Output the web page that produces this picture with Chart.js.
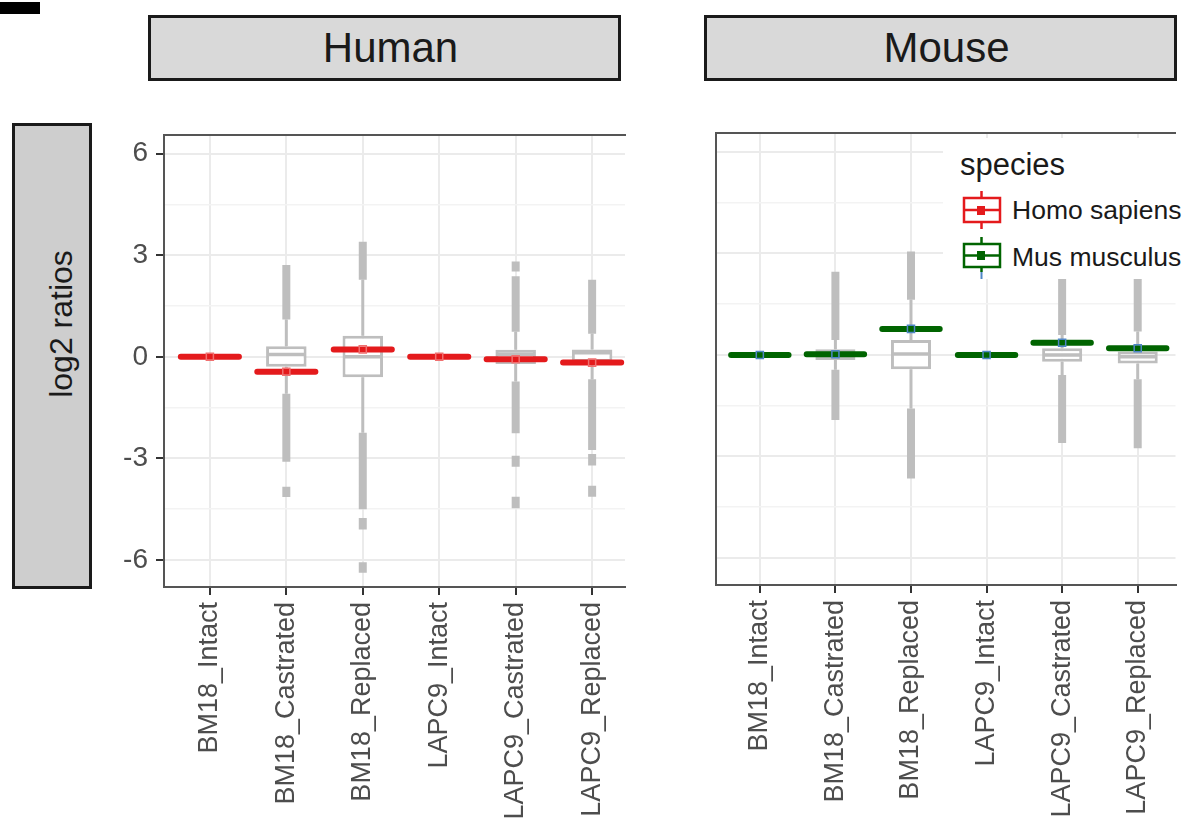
<!DOCTYPE html>
<html>
<head>
<meta charset="utf-8">
<script src="https://cdn.jsdelivr.net/npm/chart.js@4.4.1/dist/chart.umd.min.js"></script>
<style>
  body { margin: 0; background: #fff; width: 1182px; height: 821px; overflow: hidden; position: relative; font-family: "Liberation Sans", Arial, sans-serif; }
  .abs { position: absolute; }
  .strip { position: absolute; box-sizing: border-box; border: 3px solid #1a1a1a; background: #d9d9d9; color: #1a1a1a; font-size: 42px; display: flex; align-items: center; justify-content: center; padding-left: 12px; }
  #ylab { position: absolute; left: 12px; top: 123px; width: 80px; height: 466px; box-sizing: border-box; border: 3px solid #1a1a1a; background: #cecece; }
  #ylabText { position: absolute; left: 61px; top: 324px; transform: translate(-50%, -50%) rotate(-90deg); font-size: 32px; color: #1a1a1a; white-space: nowrap; }
  #legend { position: absolute; left: 943px; top: 138px; width: 239px; height: 141px; background: #fff; }
</style>
</head>
<body>
<div class="abs" style="left:0;top:2px;width:40px;height:12px;background:#000"></div>
<div class="strip" style="left:148px;top:15px;width:473px;height:66px">Human</div>
<div class="strip" style="left:704px;top:15px;width:473px;height:66px">Mouse</div>
<div id="ylab"></div>
<div id="ylabText">log2 ratios</div>

<canvas id="human" class="abs" style="left:60px;top:110px" width="580" height="711"></canvas>
<canvas id="mouse" class="abs" style="left:700px;top:110px" width="482" height="711"></canvas>

<div id="legend">
  <svg width="239" height="141" style="position:absolute;left:0;top:0" font-family="Liberation Sans, Arial, sans-serif">
    <text x="17" y="37" font-size="31" fill="#1a1a1a">species</text>
    <g stroke="#e41a1c" stroke-width="2.5" fill="none">
      <line x1="38.5" y1="53" x2="38.5" y2="60"/>
      <line x1="38.5" y1="84" x2="38.5" y2="91"/>
      <rect x="21" y="60" width="36" height="24"/>
      <line x1="21" y1="72" x2="57" y2="72"/>
    </g>
    <rect x="34" y="68" width="8" height="9" fill="#e41a1c"/>
    <text x="69" y="81" font-size="26.5" fill="#1a1a1a">Homo sapiens</text>
    <g stroke="#006400" stroke-width="2.5" fill="none">
      <line x1="38.5" y1="99" x2="38.5" y2="106"/>
      <line x1="38.5" y1="129" x2="38.5" y2="134"/>
      <rect x="21" y="106" width="36" height="23"/>
      <line x1="21" y1="117.5" x2="57" y2="117.5"/>
    </g>
    <line x1="38.5" y1="134" x2="38.5" y2="141" stroke="#4f86c6" stroke-width="2"/>
    <rect x="34" y="113" width="8" height="9" fill="#006400"/>
    <text x="69" y="128" font-size="26.5" fill="#1a1a1a">Mus musculus</text>
  </svg>
</div>

<script>
const categories = ['BM18_Intact', 'BM18_Castrated', 'BM18_Replaced', 'LAPC9_Intact', 'LAPC9_Castrated', 'LAPC9_Replaced'];
const yTicks = [-6, -4.5, -3, -1.5, 0, 1.5, 3, 4.5, 6];

// Human (Homo sapiens)
const humanQ1 = [0, -0.29, -0.60, 0, -0.21, -0.15];
const humanMedian = [0, 0.07, 0.0, 0, 0.08, 0.12];
const humanQ3 = [0, 0.31, 0.62, 0, 0.21, 0.22];
const humanWhiskerLow = [0, -1.09, -2.24, 0, -0.73, -0.66];
const humanWhiskerHigh = [0, 1.1, 2.28, 0, 0.74, 0.68];
const humanMean = [0, -0.44, 0.22, 0, -0.07, -0.17];
// outliers: [category index, from, to]
const humanOutliers = [
  [1, 1.1, 2.71], [1, -1.09, -3.1], [1, -3.84, -4.14],
  [2, 2.28, 3.4], [2, -2.24, -4.5], [2, -4.76, -5.1], [2, -6.07, -6.38],
  [4, 0.74, 2.38], [4, 2.52, 2.82], [4, -0.73, -2.26], [4, -2.92, -3.25], [4, -4.13, -4.47],
  [5, 0.68, 2.28], [5, -0.66, -2.75], [5, -2.87, -3.21], [5, -3.81, -4.13]
];

// Mouse (Mus musculus)
const mouseQ1 = [0, -0.15, -0.42, 0, -0.2, -0.25];
const mouseMedian = [0, 0.0, 0.03, 0, 0.0, -0.05];
const mouseQ3 = [0, 0.17, 0.44, 0, 0.2, 0.1];
const mouseWhiskerLow = [0, -0.44, -1.58, 0, -0.59, -0.72];
const mouseWhiskerHigh = [0, 0.44, 1.63, 0, 0.59, 0.69];
const mouseMean = [0, 0.02, 0.77, 0, 0.36, 0.2];
const mouseOutliers = [
  [1, 0.44, 2.46], [1, -0.44, -1.92],
  [2, 1.63, 3.06], [2, -1.58, -3.65],
  [4, 0.59, 2.3], [4, -0.59, -2.6],
  [5, 0.69, 2.3], [5, -0.72, -2.76]
];

const boxGrey = '#bebebe';

function segs(list) {
  const pts = [];
  list.forEach(s => {
    pts.push({x: s[0], y: s[1]}, {x: s[2], y: s[3]}, {x: s[2], y: null});
  });
  return pts;
}

function buildDatasets(q1, med, q3, wLo, wHi, mean, outl, color, markColor) {
  const idx = categories.map((c, i) => i);
  return [
    {
      data: segs(outl.map(o => [o[0], o[1], o[0], o[2]])),
      showLine: true, borderColor: boxGrey, borderWidth: 8, borderCapStyle: 'butt',
      pointRadius: 0, spanGaps: false, order: 6
    },
    {
      data: segs(idx.map(i => [i, q3[i], i, wHi[i]]).concat(idx.map(i => [i, q1[i], i, wLo[i]]))),
      showLine: true, borderColor: boxGrey, borderWidth: 3, pointRadius: 0, spanGaps: false, order: 5
    },
    {
      type: 'bar',
      data: idx.map(i => ({x: i, y: [q1[i], q3[i]]})),
      backgroundColor: '#ffffff', borderColor: boxGrey, borderWidth: 3, borderSkipped: false,
      barPercentage: 0.53, categoryPercentage: 1, order: 4
    },
    {
      data: segs(idx.map(i => [i - 0.25, med[i], i + 0.25, med[i]])),
      showLine: true, borderColor: boxGrey, borderWidth: 3.5, pointRadius: 0, spanGaps: false, order: 3
    },
    {
      data: segs(idx.map(i => [i - 0.38, mean[i], i + 0.38, mean[i]])),
      showLine: true, borderColor: color, borderWidth: 6, borderCapStyle: 'round',
      pointRadius: 0, spanGaps: false, order: 2
    },
    {
      data: idx.map(i => ({x: i, y: mean[i]})),
      pointStyle: 'rect', pointRadius: 5, borderWidth: 1.5,
      pointBorderColor: markColor, pointBackgroundColor: 'rgba(0,0,0,0)', order: 1
    }
  ];
}

function makePanel(id, datasets, opt) {
  new Chart(document.getElementById(id), {
    type: 'scatter',
    data: { datasets: datasets },
    options: {
      responsive: false,
      animation: false,
      events: [],
      layout: { padding: { left: 0, top: opt.padTop, right: opt.padRight, bottom: 0 } },
      plugins: { legend: { display: false }, tooltip: { enabled: false } },
      scales: {
        x: {
          type: 'linear', position: 'bottom', min: opt.xMin, max: opt.xMax, offset: false,
          afterBuildTicks: s => { s.ticks = categories.map((c, i) => ({value: i})); },
          afterFit: s => { s.height = opt.xHeight; },
          ticks: {
            autoSkip: false, minRotation: 90, maxRotation: 90, padding: 7,
            color: '#4d4d4d', font: { family: 'Liberation Sans', size: 27 },
            callback: v => categories[v]
          },
          grid: { offset: false, color: '#ebebeb', lineWidth: 2, tickColor: '#333333', tickLength: 8, tickWidth: 2 },
          border: { display: true, color: '#555555', width: 2 }
        },
        y: {
          type: 'linear', min: -6.8, max: 6.56,
          afterBuildTicks: s => { s.ticks = yTicks.map(v => ({value: v})); },
          afterFit: s => { s.width = opt.yWidth; },
          ticks: {
            display: opt.showY, padding: 8,
            color: '#4d4d4d', font: { family: 'Liberation Sans', size: 28 },
            callback: v => (v % 3 === 0 ? String(v) : '')
          },
          grid: {
            color: c => (c.tick && c.tick.value % 3 === 0 ? '#ebebeb' : '#f3f3f3'),
            lineWidth: c => (c.tick && c.tick.value % 3 === 0 ? 2 : 1.5),
            drawTicks: opt.showY,
            tickColor: c => (c.tick && c.tick.value % 3 === 0 ? '#333333' : 'rgba(0,0,0,0)'),
            tickLength: 8, tickWidth: 2
          },
          border: { display: true, color: '#555555', width: 2 }
        },
        xTop: {
          type: 'linear', position: 'top', min: opt.xMin, max: opt.xMax,
          afterFit: s => { s.height = 0; },
          ticks: { display: false },
          grid: { display: false, drawTicks: false },
          border: { display: true, color: '#555555', width: 2 }
        }
      }
    }
  });
}

makePanel('human',
  buildDatasets(humanQ1, humanMedian, humanQ3, humanWhiskerLow, humanWhiskerHigh, humanMean, humanOutliers, '#e41a1c', '#f07070'),
  { xMin: -0.6, xMax: 5.43, padTop: 19, padRight: 15, xHeight: 234, yWidth: 104, showY: true });

makePanel('mouse',
  buildDatasets(mouseQ1, mouseMedian, mouseQ3, mouseWhiskerLow, mouseWhiskerHigh, mouseMean, mouseOutliers, '#006400', '#4f86c6'),
  { xMin: -0.58, xMax: 5.5, padTop: 23, padRight: 5, xHeight: 236, yWidth: 16, showY: false });
</script>
</body>
</html>
